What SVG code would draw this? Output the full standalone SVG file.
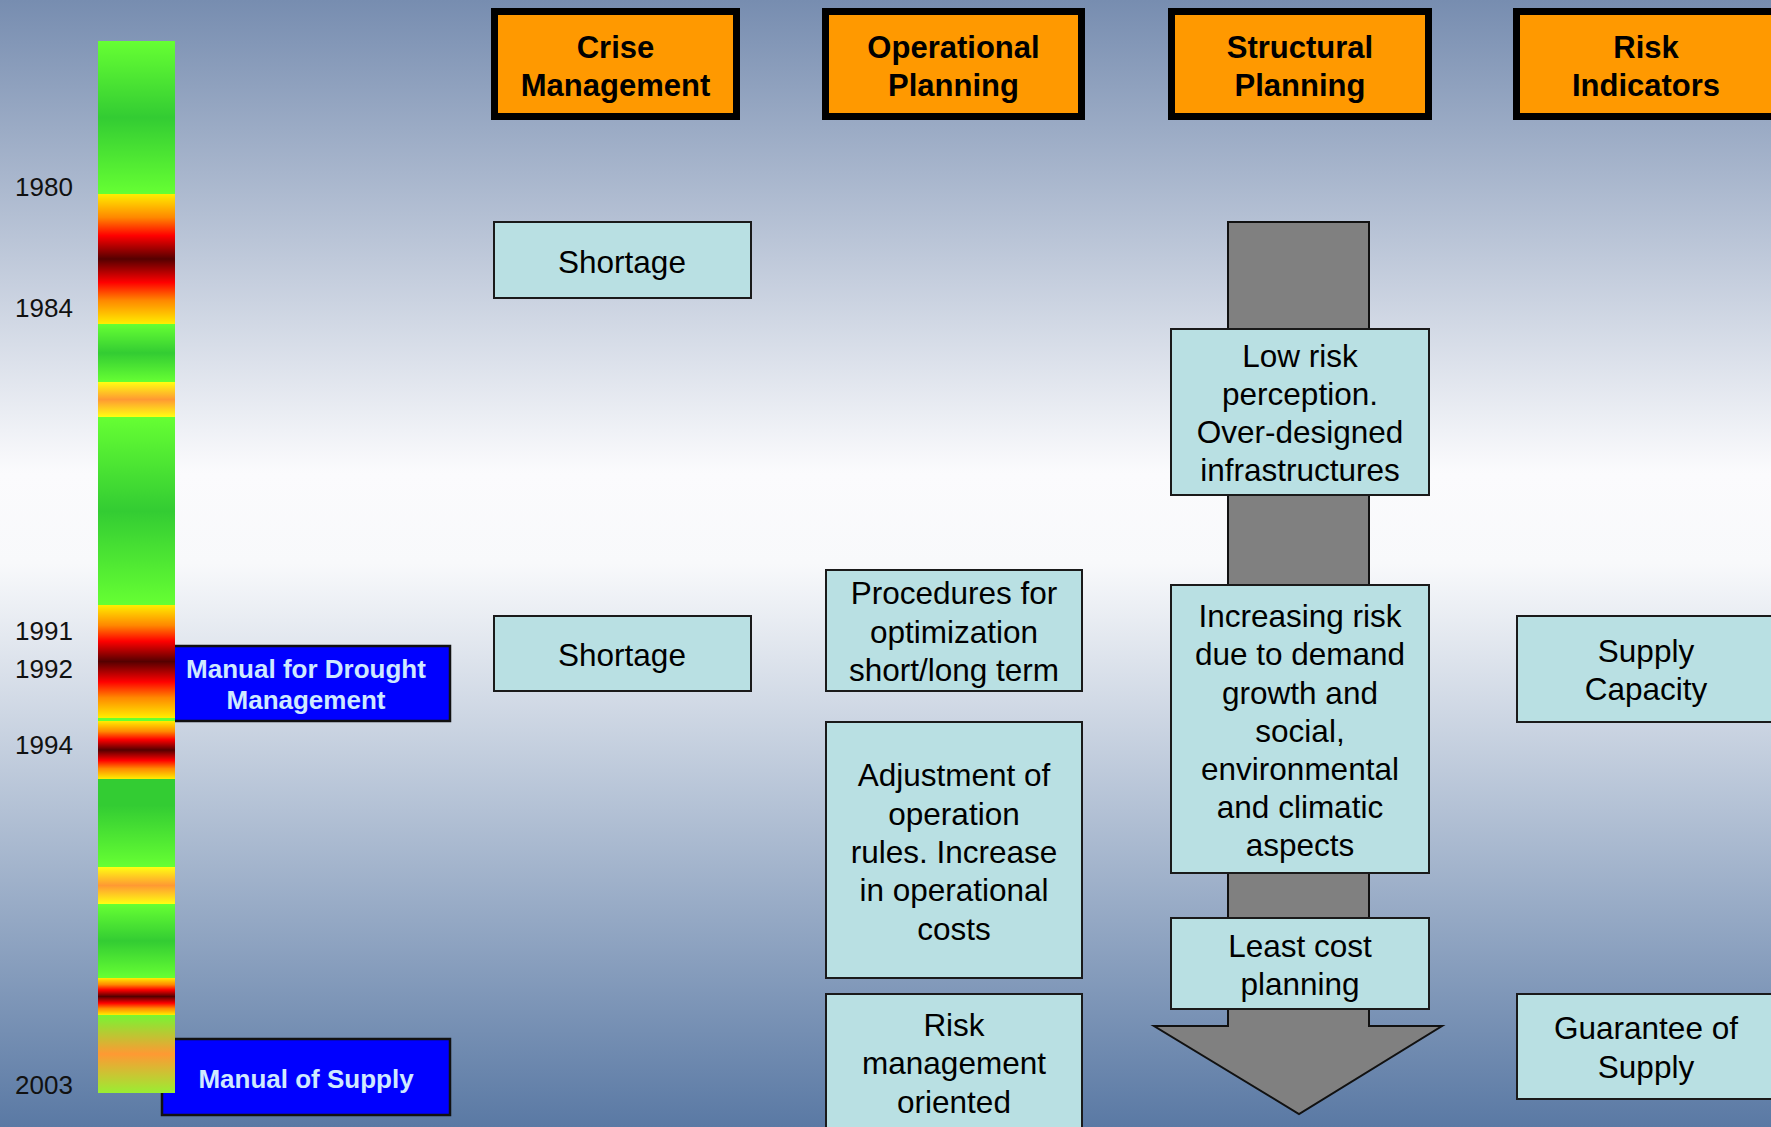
<svg xmlns="http://www.w3.org/2000/svg" width="1771" height="1127" viewBox="0 0 1771 1127">
<defs>
<linearGradient id="bg" x1="0" y1="0" x2="0" y2="1">
<stop offset="0" stop-color="#778db0"/>
<stop offset="0.42" stop-color="#fbfbfd"/>
<stop offset="0.5" stop-color="#f8f9fb"/>
<stop offset="1" stop-color="#5a79a4"/>
</linearGradient>
<linearGradient id="gLDL" x1="0" y1="0" x2="0" y2="1">
<stop offset="0" stop-color="#66ff33"/>
<stop offset="0.5" stop-color="#33cc33"/>
<stop offset="1" stop-color="#66ff33"/>
</linearGradient>
<linearGradient id="gDL" x1="0" y1="0" x2="0" y2="1">
<stop offset="0" stop-color="#33cc33"/>
<stop offset="0.3" stop-color="#33cc33"/>
<stop offset="1" stop-color="#66ff33"/>
</linearGradient>
<linearGradient id="red" x1="0" y1="0" x2="0" y2="1">
<stop offset="0" stop-color="#ffee00"/>
<stop offset="0.18" stop-color="#ff8800"/>
<stop offset="0.32" stop-color="#ff0000"/>
<stop offset="0.5" stop-color="#550000"/>
<stop offset="0.68" stop-color="#ff0000"/>
<stop offset="0.82" stop-color="#ff8800"/>
<stop offset="1" stop-color="#ffee00"/>
</linearGradient>
<linearGradient id="org" x1="0" y1="0" x2="0" y2="1">
<stop offset="0" stop-color="#ffff11"/>
<stop offset="0.5" stop-color="#ff9933"/>
<stop offset="1" stop-color="#ffff11"/>
</linearGradient>
<linearGradient id="gog" x1="0" y1="0" x2="0" y2="1">
<stop offset="0" stop-color="#77f533"/>
<stop offset="0.5" stop-color="#ff9933"/>
<stop offset="1" stop-color="#99ee33"/>
</linearGradient>
<style>
.yr{font-family:"Liberation Sans",Arial,sans-serif;font-size:26px;fill:#111}
.hd rect{fill:#ff9900;stroke:#000;stroke-width:7}
.hd text{font-family:"Liberation Sans",Arial,sans-serif;font-size:31px;font-weight:bold;fill:#000;text-anchor:middle}
.bx rect{fill:#b9e0e3;stroke:#1a1a1a;stroke-width:2}
.bx text{font-family:"Liberation Sans",Arial,sans-serif;font-size:31.5px;fill:#000;text-anchor:middle}
.mn rect{fill:#0000ff;stroke:#111;stroke-width:2.5}
.mn text{font-family:"Liberation Sans",Arial,sans-serif;font-size:26px;font-weight:bold;fill:#cfe9ff;text-anchor:middle}
</style>
</defs>
<rect x="0" y="0" width="1771" height="1127" fill="url(#bg)"/>

<g id="manual-drought" class="mn">
<rect x="162" y="646" width="288" height="75"/>
<text x="306" y="678">Manual for Drought</text>
<text x="306" y="709">Management</text>
</g>
<g id="manual-supply" class="mn">
<rect x="162" y="1039" width="288" height="76"/>
<text x="306" y="1088">Manual of Supply</text>
</g>

<g id="timeline-bar">
<rect x="98" y="41" width="77" height="153" fill="url(#gLDL)"/>
<rect x="98" y="194" width="77" height="130" fill="url(#red)"/>
<rect x="98" y="324" width="77" height="58" fill="url(#gLDL)"/>
<rect x="98" y="382" width="77" height="35" fill="url(#org)"/>
<rect x="98" y="417" width="77" height="188" fill="url(#gLDL)"/>
<rect x="98" y="605" width="77" height="113" fill="url(#red)"/>
<rect x="98" y="718" width="77" height="3" fill="#66ff33"/>
<rect x="98" y="721" width="77" height="58" fill="url(#red)"/>
<rect x="98" y="779" width="77" height="88" fill="url(#gDL)"/>
<rect x="98" y="867" width="77" height="37" fill="url(#org)"/>
<rect x="98" y="904" width="77" height="74" fill="url(#gLDL)"/>
<rect x="98" y="978" width="77" height="37" fill="url(#red)"/>
<rect x="98" y="1015" width="77" height="78" fill="url(#gog)"/>
</g>

<g id="years">
<text class="yr" x="15" y="196">1980</text>
<text class="yr" x="15" y="317">1984</text>
<text class="yr" x="15" y="640">1991</text>
<text class="yr" x="15" y="678">1992</text>
<text class="yr" x="15" y="754">1994</text>
<text class="yr" x="15" y="1094">2003</text>
</g>

<g id="connectors">
<path d="M1228,222 H1369 V1026 H1442 L1299,1114 L1154,1026 H1228 Z" fill="#808080" stroke="#111" stroke-width="2"/>
</g>

<g id="hdr-crise" class="hd">
<rect x="494.5" y="11.5" width="242" height="105"/>
<text x="615.5" y="58">Crise</text>
<text x="615.5" y="96">Management</text>
</g>
<g id="hdr-operational" class="hd">
<rect x="825.5" y="11.5" width="256" height="105"/>
<text x="953.5" y="58">Operational</text>
<text x="953.5" y="96">Planning</text>
</g>
<g id="hdr-structural" class="hd">
<rect x="1171.5" y="11.5" width="257" height="105"/>
<text x="1300" y="58">Structural</text>
<text x="1300" y="96">Planning</text>
</g>
<g id="hdr-risk" class="hd">
<rect x="1516.5" y="11.5" width="262" height="105"/>
<text x="1646" y="58">Risk</text>
<text x="1646" y="96">Indicators</text>
</g>

<g id="shortage-1" class="bx">
<rect x="494" y="222" width="257" height="76"/>
<text x="622" y="273">Shortage</text>
</g>
<g id="shortage-2" class="bx">
<rect x="494" y="616" width="257" height="75"/>
<text x="622" y="666">Shortage</text>
</g>

<g id="procedures" class="bx">
<rect x="826" y="570" width="256" height="121"/>
<text x="954" y="604">Procedures for</text>
<text x="954" y="643">optimization</text>
<text x="954" y="681">short/long term</text>
</g>
<g id="adjustment" class="bx">
<rect x="826" y="722" width="256" height="256"/>
<text x="954" y="786">Adjustment of</text>
<text x="954" y="825">operation</text>
<text x="954" y="863">rules. Increase</text>
<text x="954" y="901">in operational</text>
<text x="954" y="940">costs</text>
</g>
<g id="risk-management" class="bx">
<rect x="826" y="994" width="256" height="140"/>
<text x="954" y="1036">Risk</text>
<text x="954" y="1074">management</text>
<text x="954" y="1113">oriented</text>
</g>

<g id="low-risk" class="bx">
<rect x="1171" y="329" width="258" height="166"/>
<text x="1300" y="367">Low risk</text>
<text x="1300" y="405">perception.</text>
<text x="1300" y="443">Over-designed</text>
<text x="1300" y="481">infrastructures</text>
</g>
<g id="increasing-risk" class="bx">
<rect x="1171" y="585" width="258" height="288"/>
<text x="1300" y="627">Increasing risk</text>
<text x="1300" y="665">due to demand</text>
<text x="1300" y="704">growth and</text>
<text x="1300" y="742">social,</text>
<text x="1300" y="780">environmental</text>
<text x="1300" y="818">and climatic</text>
<text x="1300" y="856">aspects</text>
</g>
<g id="least-cost" class="bx">
<rect x="1171" y="918" width="258" height="91"/>
<text x="1300" y="957">Least cost</text>
<text x="1300" y="995">planning</text>
</g>

<g id="supply-capacity" class="bx">
<rect x="1517" y="616" width="262" height="106"/>
<text x="1646" y="662">Supply</text>
<text x="1646" y="700">Capacity</text>
</g>
<g id="guarantee" class="bx">
<rect x="1517" y="994" width="262" height="105"/>
<text x="1646" y="1039">Guarantee of</text>
<text x="1646" y="1078">Supply</text>
</g>
</svg>
